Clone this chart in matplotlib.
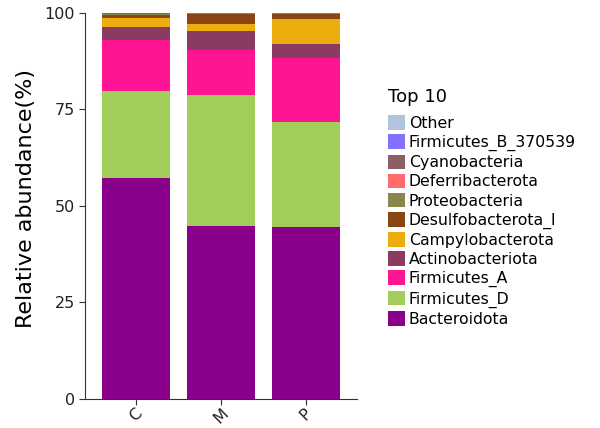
import matplotlib
matplotlib.use("Agg")
import matplotlib.pyplot as plt
from matplotlib.patches import Patch
import numpy as np

groups = ["C", "M", "P"]

# stacking order, bottom to top
phyla = ["Bacteroidota", "Firmicutes_D", "Firmicutes_A", "Actinobacteriota",
         "Campylobacterota", "Desulfobacterota_I", "Proteobacteria",
         "Deferribacterota", "Cyanobacteria", "Firmicutes_B_370539", "Other"]

abundance = {
    "Bacteroidota":        [57.2, 44.8, 44.4],
    "Firmicutes_D":        [22.6, 34.0, 27.4],
    "Firmicutes_A":        [13.1, 11.6, 16.5],
    "Actinobacteriota":    [3.5, 4.9, 3.5],
    "Campylobacterota":    [2.3, 1.9, 6.7],
    "Desulfobacterota_I":  [0.7, 2.4, 1.3],
    "Proteobacteria":      [0.2, 0.3, 0.1],
    "Deferribacterota":    [0.2, 0.05, 0.05],
    "Cyanobacteria":       [0.1, 0.03, 0.03],
    "Firmicutes_B_370539": [0.05, 0.01, 0.01],
    "Other":               [0.05, 0.01, 0.01],
}

colors = {
    "Bacteroidota": "#8B008B",
    "Firmicutes_D": "#A2CD5A",
    "Firmicutes_A": "#FF1493",
    "Actinobacteriota": "#8B3A62",
    "Campylobacterota": "#EEAD0E",
    "Desulfobacterota_I": "#8B4513",
    "Proteobacteria": "#8B864E",
    "Deferribacterota": "#FF6A6A",
    "Cyanobacteria": "#8B5F65",
    "Firmicutes_B_370539": "#8470FF",
    "Other": "#B0C4DE",
}

fig = plt.figure(figsize=(6, 4.28), dpi=100)
ax = fig.add_axes([0.142, 0.068, 0.453, 0.902])

x = np.arange(len(groups))
bottom = np.zeros(len(groups))
for p in phyla:
    vals = np.array(abundance[p])
    ax.bar(x, vals, 0.8, bottom=bottom, color=colors[p], linewidth=0)
    bottom += vals

ax.set_xlim(-0.6, 2.6)
ax.set_ylim(0, 100)
ax.set_yticks([0, 25, 50, 75, 100])
ax.set_xticks(x)
ax.set_xticklabels(groups, rotation=45, ha="center", va="top", fontsize=11.5)
ax.tick_params(axis="y", labelsize=11.5, length=4, color="#333333", labelcolor="#222222")
ax.tick_params(axis="x", length=4, color="#333333", labelcolor="#222222", pad=1)
ax.set_ylabel("Relative abundance(%)", fontsize=16)
ax.yaxis.set_label_coords(-0.182, 0.52)
ax.spines["top"].set_visible(False)
ax.spines["right"].set_visible(False)
ax.spines["left"].set_color("#333333")
ax.spines["bottom"].set_color("#333333")

handles = [Patch(facecolor=colors[p], label=p) for p in reversed(phyla)]
leg = fig.legend(handles=handles, title="Top 10", loc="upper left",
                 bbox_to_anchor=(0.637, 0.81), frameon=False, fontsize=11.3,
                 title_fontsize=13, handlelength=1.05, handleheight=1.05,
                 labelspacing=0.22, handletextpad=0.25, borderaxespad=0)
leg._legend_box.align = "left"
leg._legend_box.sep = 7

fig.savefig("out.png", dpi=100)
